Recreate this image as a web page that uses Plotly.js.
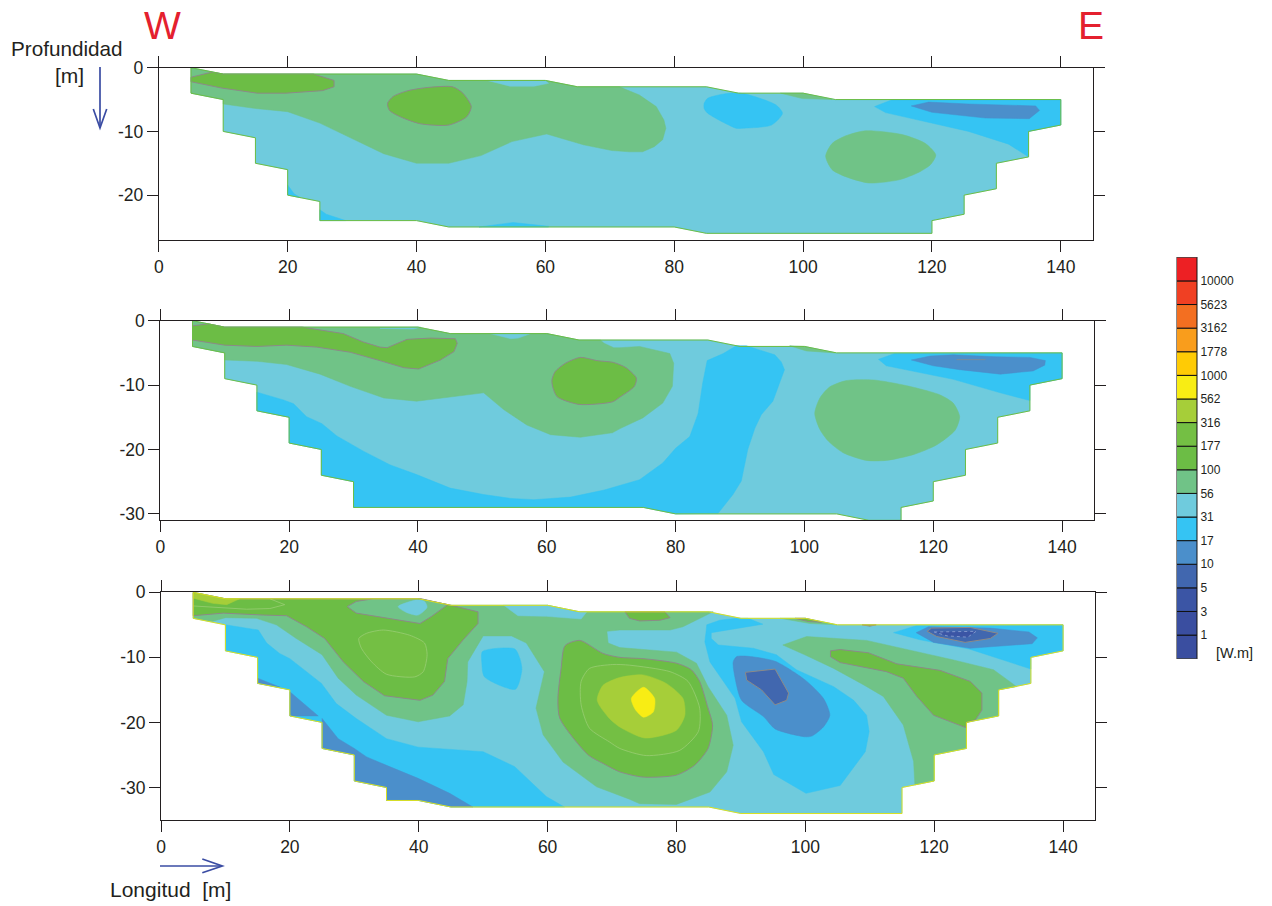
<!DOCTYPE html>
<html><head><meta charset="utf-8">
<script src="https://cdn.plot.ly/plotly-3.0.1.min.js"></script>
<style>html,body{margin:0;padding:0;background:#fff}#chart{width:1272px;height:906px}</style>
</head><body><div id="chart"></div>
<script>
// ---------- resistivity scale (Ohm.m) ----------
const scaleLabels = ["10000","5623","3162","1778","1000","562","316","177","100","56","31","17","10","5","3","1"];
const scaleColors = ["#ED2024","#F04023","#F36F21","#F99D1C","#FFCB05","#F8ED14","#A6CE39","#74BF44","#6CBD45","#70C387","#6FCBDD","#35C4F3","#4B8FCB","#4167AF","#3B55A5","#3A4EA0","#3A4EA0"];
const C = {r562:"#F8ED14", r316:"#A6CE39", r177:"#74BF44", r100:"#6CBD45", r56:"#70C387", r31:"#6FCBDD", r17:"#35C4F3", r10:"#4B8FCB", r5:"#4167AF", r3:"#3B55A5"};
const xTicks = [0,20,40,60,80,100,120,140];

// ---------- section 1 : [x, depth] ----------
const s1Outline = [[5,0],[10,-1],[40,-1],[45,-2],[60,-2],[65,-3],[85,-3],[90,-4],[100,-4],[105,-5],[140,-5],[140,-9],[135,-10],[135,-14],[130,-15],[130,-19],[125,-20],[125,-23],[120,-24],[120,-26],[85,-26],[80,-25],[45,-25],[40,-24],[25,-24],[25,-21],[20,-20],[20,-16],[15,-15],[15,-11],[10,-10],[10,-5],[5,-4]];
const s1BlueA = [[20,-18.4],[21,-19.8],[22,-20.4],[20,-20]];
const s1BlueB = [[25,-22.3],[26,-23],[29,-24],[25,-24]];
const s1BlueC = [[49.7,-25],[55,-24.3],[60.5,-24.9],[60.5,-25]];
const s1BlueD = [[84.65,-5.6],[85.2,-4.8],[88.5,-4],[90.9,-4.1],[95.8,-5.85],[96.8,-7.15],[95.1,-9],[90.6,-9.5],[89.6,-9.5],[85.2,-7.15],[84.65,-6.4]];
const s1BlueE = [[111.1,-6.1],[113.9,-5],[140,-5],[140,-9],[135,-10],[135,-14],[131.9,-12],[125.7,-10],[112.8,-7.05]];
const s1Deep = [[116.8,-6],[119.5,-5.4],[125.7,-5.7],[136.1,-6],[136.7,-6.7],[135.1,-8],[128.3,-7.9],[124.2,-7.5],[120,-7]];
const s1Green = [[5,0],[10,-1],[40,-1],[45,-2],[60,-2],[65,-3],[71.5,-3],[74.6,-4.3],[77.2,-6.1],[78.4,-8.2],[78.7,-9.5],[78.2,-11.3],[76.9,-12.4],[75.1,-13.2],[73,-13.2],[70.3,-13],[65.9,-12.1],[60.2,-10.4],[54.8,-11.6],[50,-13.8],[45,-15],[40,-15],[34.9,-13.5],[30.4,-11.3],[25,-8.7],[20,-6.9],[15,-6.4],[10,-5.7],[10,-5],[5,-4]];
const s1Pocket = [[51,-2],[54.5,-2.9],[58.3,-2.9],[60.5,-2.45],[60,-2]];
const s1GreenTop = [[96.5,-4],[100,-4],[104.5,-5],[99.9,-4.85]];
const s1GreenBlob = [[103.5,-13.9],[104.5,-11.9],[106.6,-10.7],[109.7,-9.9],[115.4,-10.5],[119,-11.9],[120.6,-13.7],[119.8,-15.2],[118,-16.4],[114.9,-17.6],[110.2,-18.1],[106.6,-17.1],[104.5,-16]];
const s1HighA = [[5,-1.5],[8.2,-0.7],[10,-1],[24,-1],[27.2,-2],[27.2,-3],[25.4,-3.6],[19.7,-4],[15.3,-4],[9.8,-3.2],[5,-2.2]];
const s1HighB = [[35.5,-5.6],[36.4,-4.5],[38.7,-3.6],[41.8,-3.1],[45.6,-3],[47.2,-4],[48.5,-6.1],[47.8,-7.7],[45,-9],[40.6,-8.8],[37.7,-7.8],[35.8,-6.7]];

// ---------- section 2 ----------
const s2Outline = [[5,0],[10,-1],[40,-1],[45,-2],[60,-2],[65,-3],[85,-3],[90,-4],[100,-4],[105,-5],[140,-5],[140,-9],[135,-10],[135,-14],[130,-15],[130,-19],[125,-20],[125,-24],[120,-25],[120,-28],[115,-29],[115,-31],[110,-31],[105,-30],[80,-30],[75,-29],[30,-29],[30,-25],[25,-24],[25,-20],[20,-19],[20,-15],[15,-14],[15,-10],[10,-9],[10,-5],[5,-4]];
const s2Blue = [[15,-11.1],[19.1,-12.3],[20.7,-12.9],[22.7,-14.9],[25.1,-16],[27.4,-17.9],[31.6,-20.3],[35.7,-22.4],[39.8,-23.9],[45,-26],[50.2,-27],[54.4,-27.6],[58,-27.8],[63.7,-27.4],[68.9,-26.3],[72,-25.4],[74.4,-24.7],[78,-22.1],[80,-19.8],[82.2,-18],[83.5,-14.4],[84.2,-9.7],[84.9,-6.2],[87.4,-5.1],[89.4,-3.9],[91,-3.9],[95.4,-5.3],[96.4,-6.4],[96.9,-7.6],[95.1,-12.5],[93.3,-14.6],[92.3,-16.7],[91.2,-20],[90.2,-24.9],[88.9,-27],[86.6,-29.9],[80,-30],[75,-29],[30,-29],[30,-25],[25,-24],[25,-20],[20,-19],[20,-15],[15,-14]];
const s2BlueE = [[111.5,-6],[114,-5.1],[140,-5],[140,-9],[135,-10],[135,-12.4],[130.4,-11.2],[123.1,-9.1],[112.7,-7]];
const s2Deep = [[116.6,-6.1],[119.5,-5.5],[123.1,-5.3],[129.8,-5.6],[135,-5.7],[137.4,-6.2],[137.3,-6.9],[135.5,-7.8],[130.4,-8.3],[124.1,-7.6],[120,-7]];
const s2DeepLine = [[123.6,-6.05],[128.1,-6.05]];
const s2Green = [[5,0],[10,-1],[40,-1],[45,-2],[60,-2],[65,-3],[68.3,-3],[68.9,-3.5],[70.4,-4.2],[71.3,-4.2],[74.4,-4],[79.1,-5.1],[79.7,-6.6],[79.5,-10.2],[78,-12.8],[74.9,-15.1],[71.3,-16.8],[70.2,-17.4],[65.2,-18.1],[60.6,-17.7],[56.9,-16.2],[53.3,-13.8],[50.2,-11.2],[45,-11.8],[39.8,-12.5],[34.7,-12],[29.5,-10.2],[24.8,-8.3],[19.6,-6.8],[15,-6.3],[10,-6.1],[10,-5],[5,-4]];
const s2PocketA = [[34.1,-1.2],[40.4,-1],[39.3,-1.3]];
const s2PocketB = [[51.2,-2],[54.4,-2.8],[55.6,-2.7],[57.5,-2]];
const s2GreenTop = [[97.7,-3.9],[100,-4],[104.7,-5],[100.3,-4.7]];
const s2GreenBlob = [[101.6,-14.4],[102.4,-12],[103.9,-10.3],[106.5,-9.3],[110.7,-9.2],[115.9,-10.1],[121,-11.5],[123.1,-12.8],[124.1,-14.9],[123.4,-17],[120.5,-19.3],[116.9,-20.8],[112.7,-21.7],[109.6,-21.7],[106,-20.5],[103.7,-18.7],[102.4,-16.9]];
const s2HighA = [[5,-0.8],[7.5,-0.5],[10,-1],[22,-1],[28.4,-2],[31.5,-3.3],[34.1,-4.1],[35.2,-4.2],[38.3,-2.9],[41.9,-2.7],[45.8,-2.8],[46.1,-3.5],[45.6,-4.8],[43.5,-6.1],[40.1,-7.5],[37.8,-7.3],[34.1,-6.2],[29.5,-4.9],[24.3,-4.1],[19.6,-3.8],[15,-4],[10,-3.8],[5,-3]];
const s2HighB = [[60.8,-9.2],[61.3,-7.9],[62.9,-6.6],[65.2,-5.7],[67.8,-6.2],[70.4,-6.5],[72.3,-7.3],[73.9,-8.9],[73.6,-10.2],[71.3,-11.9],[70.2,-12.6],[65,-13],[61.6,-11.8],[60.9,-10.2]];

// ---------- section 3 ----------
const s3Outline = [[5,0],[10,-1],[40,-1],[45,-2],[60,-2],[65,-3],[85,-3],[90,-4],[100,-4],[105,-5],[140,-5],[140,-9],[135,-10],[135,-14],[130,-15],[130,-19],[125,-20],[125,-24],[120,-25],[120,-29],[115,-30],[115,-34],[90,-34],[85,-33],[45,-33],[40,-32],[35,-32],[35,-30],[30,-29],[30,-25],[25,-24],[25,-20],[20,-19],[20,-15],[15,-14],[15,-10],[10,-9],[10,-5],[5,-4]];
const s3Green = [[5,0],[10,-1],[40,-1],[45,-2],[60,-2],[65,-3],[85.7,-3],[81,-5.3],[79,-5.8],[71.2,-5.8],[69.2,-6],[69.4,-7.8],[71.2,-8.5],[76.4,-8.9],[80,-9.2],[83.1,-10.9],[84.9,-14.5],[87.8,-18.9],[88.8,-23.5],[87.8,-27.6],[85.2,-30.7],[80,-32.6],[74.3,-32.5],[72.7,-31.8],[67.6,-29.9],[62.4,-26.1],[59.3,-21.9],[58.2,-17.8],[59.5,-12.2],[56.7,-7.8],[54.4,-6.7],[50,-6.7],[47.6,-10.7],[47.5,-13.7],[46.9,-17.3],[44.8,-19],[39.9,-19.9],[35,-18.9],[30.3,-15.8],[27.5,-13.2],[25,-9.6],[21,-7.1],[17.9,-5],[14.8,-4],[10,-3.9],[7.9,-4.5],[5,-4]];
const s3PocketA = [[53.2,-2],[60,-2],[64.4,-3],[66.1,-3],[65.2,-4.1],[59.8,-3.7],[55.4,-3.6]];
const s3GreenRight = [[96.5,-8.1],[100.2,-6.8],[109.5,-7.4],[123,-10.4],[129.2,-11.9],[132.8,-14.5],[130,-15],[130,-19],[125,-20],[125,-24],[120,-25],[120,-29],[117,-29.6],[116.8,-26],[115.2,-20.4],[112.1,-16],[109,-14.2],[104.4,-11.7],[99.9,-9.6]];
const s3GreenTop = [[96.1,-4],[100,-4],[104.9,-5],[100.7,-4.8]];
const s3BlueLeft = [[10,-5],[15.1,-5.8],[16.4,-7.8],[18.4,-9.4],[20,-10.2],[24.9,-14],[27.2,-17.1],[30.3,-19.4],[35,-22.5],[39.9,-23.8],[50,-24.5],[54.9,-26.8],[59.8,-31.4],[62.6,-33],[45,-33],[40,-32],[35,-32],[35,-30],[30,-29],[30,-25],[25,-24],[25,-20],[20,-19],[20,-15],[15,-14],[15,-10],[10,-9]];
const s3DeepA = [[15,-13.2],[18.5,-14.6],[15,-14]];
const s3DeepB = [[20,-15.3],[24.4,-19],[20,-19]];
const s3DeepC = [[25,-19.4],[27.5,-22.5],[30,-24],[31.9,-25.3],[35,-26.6],[39.9,-28.6],[44.8,-30.9],[48.4,-33],[45,-33],[40,-32],[35,-32],[35,-30],[30,-29],[30,-25],[25,-24]];
const s3BlueBlob = [[49.9,-9.1],[54.9,-8.7],[55.7,-10.2],[56,-11.9],[55,-14.9],[50.2,-13],[49.8,-10.9]];
const s3BlueCentre = [[84.7,-5],[86.7,-4.3],[89.3,-4],[91.1,-4],[93.4,-4.9],[85.4,-6.2],[85.4,-7.1],[86.5,-8.1],[91.9,-8.6],[95.5,-9.6],[98.6,-11.9],[104.4,-14.5],[107.5,-16.6],[109.5,-18.9],[109.9,-21.4],[109.3,-24.5],[105.4,-29.7],[100.1,-30.9],[95.1,-28],[93.5,-24.5],[90.1,-19.9],[89.1,-16.3],[85.2,-10.7],[84.4,-7.6],[84.6,-6]];
const s3DeepCentre = [[88.8,-10.7],[89.3,-9.9],[90.6,-9.8],[95.3,-10.6],[100,-13.5],[102.8,-16.3],[103.8,-18.9],[102.8,-20.7],[101,-22.1],[99.9,-22.2],[95.3,-21],[93.5,-19.1],[90.1,-16.6],[89.1,-13.2]];
const s3CoreCentre = [[90.7,-12.3],[95.3,-11.8],[97.4,-15.5],[97.1,-16.6],[95.3,-17.3],[93.2,-15],[90.9,-13.5]];
const s3BlueRight = [[113.7,-6.2],[117.3,-5.1],[140,-5],[140,-9],[135,-10],[135,-11.8],[125.4,-8.7],[117.8,-7.3]];
const s3DeepRight = [[117.2,-6.2],[119.1,-5.3],[128.7,-5.5],[134.7,-6.1],[136,-7],[135.2,-7.9],[125.6,-8.6],[119.9,-7.7]];
const s3CoreRight = [[118.9,-6],[119.6,-5.5],[125.6,-5.4],[129.9,-6.3],[128.7,-7.1],[124.8,-7.7],[120.4,-6.8]];
const s3CoreRightIn = [[120,-6.1],[126.5,-6],[125.2,-6.9],[122,-6.7]];
const s3HighLeft = [[5,-3.6],[9.7,-3.2],[15.9,-3.5],[19.5,-3.6],[22.6,-5.3],[25.4,-7.1],[28.3,-10.7],[31.4,-13.7],[34.7,-15.9],[40.2,-16.6],[42.2,-15.8],[44,-13.7],[44.5,-10.2],[46.9,-7.3],[49.2,-4.8],[49.2,-3],[45,-2],[40,-1],[10,-1],[5,0]];
const s3MidTop = [[32.9,-1],[40.4,-1],[44.5,-1.9],[42,-3.7],[40.2,-4.8],[30.3,-3.2],[28.9,-2.2],[30.3,-1.4]];
const s3PocketB = [[36.8,-2.2],[39.6,-1.2],[40.9,-1.4],[41.3,-2.3],[39.9,-3.5],[38.1,-3.1]];
const s3TopLeft = [[5,0],[10,-1],[12.2,-1],[10.2,-1.9],[8,-1.7],[5,-0.9]];
const s3TopLeftLine = [[5,-2.1],[13.3,-2.6],[16.9,-2.5],[19.2,-1.9],[16.9,-1]];
const s3InnerBlob = [[30.7,-7.1],[31.9,-6.3],[34.5,-5.8],[38.6,-6.6],[40.9,-7.8],[41.3,-9.6],[40.7,-12.2],[39.4,-13],[35,-12.6],[32.7,-10.7],[31.1,-8.6]];
const s3Dome100 = [[62.7,-8.2],[65,-7.4],[68.6,-9.4],[71.2,-10],[74.8,-10.2],[80,-10.9],[82.3,-11.9],[83.6,-13.7],[84.9,-17.8],[85.6,-20.4],[84.9,-24],[82.8,-26.6],[80,-28.1],[74.8,-28.4],[71.2,-27.6],[68.6,-26.3],[66.3,-25],[61.9,-19.4],[61.6,-16.3],[62.1,-11.7]];
const s3Dome177 = [[65.2,-13.7],[66.5,-11.7],[70.1,-11.1],[72.7,-11.2],[79,-12.2],[81.8,-13.7],[83.6,-17.8],[83.4,-21.4],[80.5,-24.3],[75.3,-25.1],[71.2,-24],[69.6,-23],[66.5,-20.9],[65.2,-17.3]];
const s3Dome316 = [[67.7,-16.6],[68.6,-14.3],[71.2,-13.1],[74.8,-12.7],[78.4,-14],[81,-16.3],[81.3,-18.9],[80,-21.2],[75.1,-22.4],[71.2,-20.7],[69.6,-19.4]];
const s3Dome562 = [[73,-16.3],[74.9,-14.6],[76.6,-16.3],[76.4,-18.4],[74.9,-19.2],[73.6,-18]];
const s3HighRight = [[103.9,-9],[105.4,-8.8],[109.8,-9.3],[114.2,-11],[120.9,-12],[125.6,-13.7],[127.4,-15.5],[127.4,-18.1],[126.4,-19.6],[125,-20],[124.9,-20.8],[119.9,-18.9],[117.3,-16],[115.2,-13.2],[112.6,-12.2],[105.4,-10.8],[103.9,-9.9]];
const s3HighTopA = [[72,-3],[78.2,-3],[79,-3.9],[77.4,-4.3],[74.3,-4.4],[72.7,-4]];
const s3HighTopB = [[98.4,-4],[100,-4],[102.5,-4.6],[100.5,-4.5]];
const s3HighTopC = [[108.8,-5],[111,-5],[110,-5.2]];

// ---------- what is painted, back to front: [section, points, colour, contour line] ----------
const GREY = "#8C8A88", PALE = "#9FD07A";
const regions = [
 [1,s1Outline,C.r31],[1,s1BlueA,C.r17],[1,s1BlueB,C.r17],[1,s1BlueC,C.r17],[1,s1BlueD,C.r17],[1,s1BlueE,C.r17],[1,s1Deep,C.r10],
 [1,s1Green,C.r56],[1,s1Pocket,C.r31],[1,s1GreenTop,C.r56],[1,s1GreenBlob,C.r56],[1,s1HighA,C.r100,GREY],[1,s1HighB,C.r100,GREY],
 [2,s2Outline,C.r31],[2,s2Blue,C.r17],[2,s2BlueE,C.r17],[2,s2Deep,C.r10],
 [2,s2Green,C.r56],[2,s2PocketA,C.r31],[2,s2PocketB,C.r31],[2,s2GreenTop,C.r56],[2,s2GreenBlob,C.r56],[2,s2HighA,C.r100,GREY],[2,s2HighB,C.r100,GREY],
 [3,s3Outline,C.r31],[3,s3Green,C.r56],[3,s3PocketA,C.r31],[3,s3GreenRight,C.r56],[3,s3GreenTop,C.r56],
 [3,s3BlueLeft,C.r17],[3,s3DeepA,C.r10],[3,s3DeepB,C.r10],[3,s3DeepC,C.r10],[3,s3BlueBlob,C.r17],
 [3,s3BlueCentre,C.r17],[3,s3DeepCentre,C.r10],[3,s3CoreCentre,C.r5,GREY],
 [3,s3BlueRight,C.r17],[3,s3DeepRight,C.r10],[3,s3CoreRight,C.r5,GREY],[3,s3CoreRightIn,C.r3,"#7F95CC"],
 [3,s3HighLeft,C.r100,GREY],[3,s3MidTop,C.r56,GREY],[3,s3PocketB,C.r31],[3,s3TopLeft,C.r316],[3,s3InnerBlob,C.r177,PALE],
 [3,s3Dome100,C.r100,GREY],[3,s3Dome177,C.r177,PALE],[3,s3Dome316,C.r316],[3,s3Dome562,C.r562],
 [3,s3HighRight,C.r100,GREY],[3,s3HighTopA,C.r100,GREY],[3,s3HighTopB,C.r100,GREY],[3,s3HighTopC,C.r100,GREY]
];
// closed contours that never touch the section edge are drawn with rounded bends
const rounded = new Set([s1BlueD,s1GreenBlob,s1HighB,s2GreenBlob,s2HighB,s3BlueBlob,s3InnerBlob,s3Dome100,s3Dome177,s3Dome316,s3Dome562,s3DeepCentre,s3PocketB]);
const outlines = [[1,s1Outline,"#6CBD45"],[2,s2Outline,"#6CBD45"],[3,s3Outline,"#D9E021"]];
const openLines = [[2,s2DeepLine,GREY],[3,s3TopLeftLine,PALE]];

// ---------- page layout, in pixels of the photograph ----------
const W = 1272, H = 906, INK = "#231F20", FONT = "Liberation Sans, Arial, sans-serif", BLUE = "#3A4CA3", RED = "#E4202E";
const fx = p => p / W, fy = p => 1 - p / H;
const frames = {
 1:{l:158.8,r:1093,t:67.7,b:239.7,yr:[-27,0]},
 2:{l:160.3,r:1094.3,t:320.7,b:520.3,yr:[-31,0]},
 3:{l:161,r:1095.3,t:592.3,b:820,yr:[-35,0]}
};
const yTicks = {1:[0,-10,-20],2:[0,-10,-20,-30],3:[0,-10,-20,-30]};

const traces = [];
const sfx = s => s === 1 ? "" : String(s);
const xs = pts => pts.map(p => p[0]), ys = pts => pts.map(p => p[1]);
const close = pts => pts.concat([pts[0]]);
regions.forEach(([s,pts,col,ln]) => traces.push({
  type:"scatter", mode:"lines", x:xs(close(pts)), y:ys(close(pts)), xaxis:"x"+sfx(s), yaxis:"y"+sfx(s),
  fill:"toself", fillcolor:col,
  line:{color:ln||col, width:ln?(ln===PALE?0.7:1):0.5, shape:rounded.has(pts)?"spline":"linear", smoothing:0.7, dash:ln==="#7F95CC"?"dot":"solid"},
  hoverinfo:"skip", showlegend:false
}));
openLines.forEach(([s,pts,col]) => traces.push({
  type:"scatter", mode:"lines", x:xs(pts), y:ys(pts), xaxis:"x"+sfx(s), yaxis:"y"+sfx(s),
  line:{color:col,width:0.7}, hoverinfo:"skip", showlegend:false
}));
outlines.forEach(([s,pts,col]) => traces.push({
  type:"scatter", mode:"lines", x:xs(close(pts)), y:ys(close(pts)), xaxis:"x"+sfx(s), yaxis:"y"+sfx(s),
  line:{color:col,width:1}, hoverinfo:"skip", showlegend:false
}));
// colour scale
const cells = scaleColors.slice().reverse();
traces.push({type:"bar", x:cells.map(()=>0), y:cells.map(()=>1), base:cells.map((c,i)=>i), width:1,
  marker:{color:cells, line:{color:"#111",width:1}}, xaxis:"x4", yaxis:"y4", hoverinfo:"skip", showlegend:false});

// the two direction arrows, in paper fractions
const arrowPath = pts => pts.map((p,i)=>(i?"L":"M")+fx(p[0])+" "+fy(p[1])).join(" ");
const arrowShapes = [
  [[100,67],[100,128]], [[93.3,109],[100,128],[106.7,109]],
  [[160,866],[222,866]], [[202.3,859],[222.3,866],[202.3,872.7]]
].map(pts => ({type:"path", xref:"paper", yref:"paper", path:arrowPath(pts), line:{color:BLUE,width:1.7}}));

const layout = {
  width:W, height:H, margin:{l:0,r:0,t:0,b:0,pad:0}, paper_bgcolor:"#fff", plot_bgcolor:"#fff", showlegend:false,
  font:{family:FONT,color:INK}, barmode:"overlay", bargap:0, shapes:arrowShapes,
  xaxis4:{domain:[fx(1176.5),fx(1197)], range:[-0.5,0.5], visible:false, anchor:"y4"},
  yaxis4:{domain:[fy(658.7),fy(257.3)], range:[0,17], anchor:"x4", side:"right", showgrid:false, zeroline:false, showline:true, mirror:true, linecolor:"#8A8A8A", linewidth:1,
    tickmode:"array", tickvals:scaleLabels.map((l,i)=>16-i), ticktext:scaleLabels, ticks:"", tickfont:{size:12,family:FONT,color:INK}},
  annotations:[
    {text:"W",x:fx(162),y:fy(25),font:{size:39,color:RED}},
    {text:"E",x:fx(1090.5),y:fy(25),font:{size:39,color:RED}},
    {text:"Profundidad",x:fx(66.5),y:fy(49),font:{size:20.7,color:INK}},
    {text:"[m]",x:fx(69.5),y:fy(76),font:{size:21,color:INK}},
    {text:"Longitud  [m]",x:fx(170.5),y:fy(889),font:{size:21,color:INK}},
    {text:"[W.m]",x:fx(1234),y:fy(652.5),font:{size:14.5,color:INK}}
  ].map(a => Object.assign({xref:"paper",yref:"paper",xanchor:"center",yanchor:"middle",showarrow:false}, a))
};
[1,2,3].forEach(s => {
  const f = frames[s], k = sfx(s);
  const base = {showgrid:false, zeroline:false, showline:true, linecolor:INK, linewidth:1, mirror:"ticks", ticks:"outside", ticklen:11, tickwidth:1, tickcolor:INK, tickfont:{size:17.5,family:FONT,color:INK}};
  layout["xaxis"+k] = Object.assign({}, base, {domain:[fx(f.l),fx(f.r)], range:[0,145], anchor:"y"+k, tickmode:"array", tickvals:xTicks, ticktext:xTicks.map(String)});
  layout["yaxis"+k] = Object.assign({}, base, {domain:[fy(f.b),fy(f.t)], range:f.yr, anchor:"x"+k, tickmode:"array", tickvals:yTicks[s], ticktext:yTicks[s].map(String)});
});
Plotly.newPlot("chart", traces, layout, {displayModeBar:false, staticPlot:true});
</script></body></html>
